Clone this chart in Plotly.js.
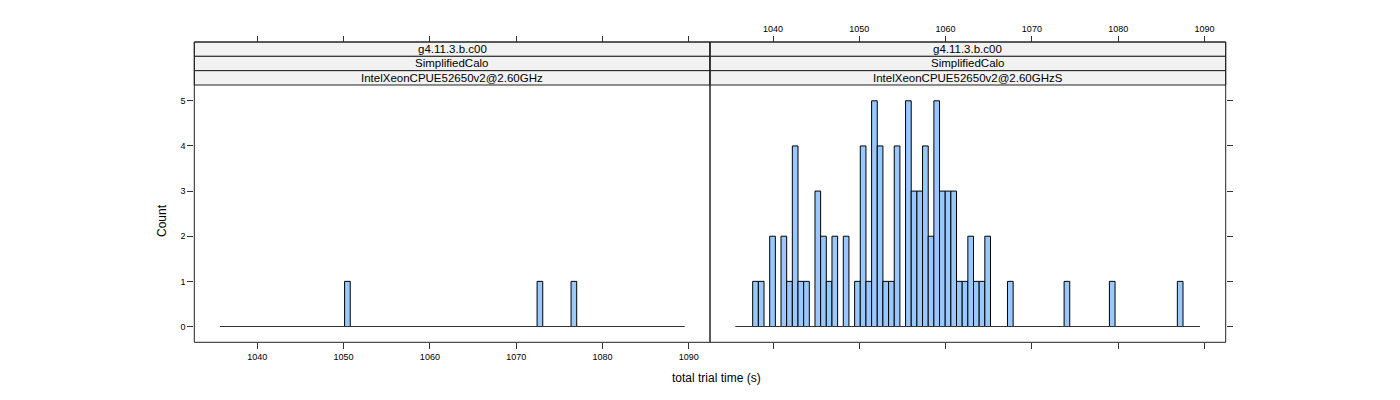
<!DOCTYPE html>
<html>
<head>
<meta charset="utf-8">
<script src="https://cdn.plot.ly/plotly-3.0.1.min.js"></script>
<style>
  html, body { margin: 0; padding: 0; background: #ffffff; }
  #chart { width: 1400px; height: 400px; }
</style>
</head>
<body>
<div id="chart"></div>
<script>
// ---------------- data ----------------
const breakStart = 1035.68;      // first histogram break (s)
const breakWidth = 0.6561;       // histogram bin width (s)
const nBins = 82;

const stripLevel1 = ["g4.11.3.b.c00", "g4.11.3.b.c00"];
const stripLevel2 = ["SimplifiedCalo", "SimplifiedCalo"];
const stripLevel3 = ["IntelXeonCPUE52650v2@2.60GHz", "IntelXeonCPUE52650v2@2.60GHzS"];

// counts per bin, left panel (IntelXeonCPUE52650v2@2.60GHz)
const countsLeft = [
  0,0,0,0,0,0,0,0,0,0,
  0,0,0,0,0,0,0,0,0,0,
  0,0,1,0,0,0,0,0,0,0,
  0,0,0,0,0,0,0,0,0,0,
  0,0,0,0,0,0,0,0,0,0,
  0,0,0,0,0,0,1,0,0,0,
  0,0,1,0,0,0,0,0,0,0,
  0,0,0,0,0,0,0,0,0,0,
  0,0
];
// counts per bin, right panel (IntelXeonCPUE52650v2@2.60GHzS)
const countsRight = [
  0,0,0,1,1,0,2,0,2,1,
  4,1,1,0,3,2,1,2,0,2,
  0,1,4,1,5,4,1,1,4,0,
  5,3,3,4,2,5,3,3,3,1,
  1,2,1,1,2,0,0,0,1,0,
  0,0,0,0,0,0,0,0,1,0,
  0,0,0,0,0,0,1,0,0,0,
  0,0,0,0,0,0,0,0,1,0,
  0,0
];

const xTicks = [1040, 1050, 1060, 1070, 1080, 1090];
const yTicks = [0, 1, 2, 3, 4, 5];
const xTitle = "total trial time (s)";
const yTitle = "Count";

// ---------------- derived ----------------
const edges = [];
for (let i = 0; i <= nBins; i++) edges.push(breakStart + i * breakWidth);
const centers = edges.slice(0, nBins).map(e => e + breakWidth / 2);

// ---------------- geometry helpers (pixel -> paper) ----------------
const W = 1400, H = 400;
const px = v => v / W;
const py = v => 1 - v / H;

const panelL = [194.3, 710.0];
const panelR = [710.0, 1225.7];
const plotTop = 85.0, plotBot = 342.3, stripTop = 42.0;
const stripH = (plotTop - stripTop) / 3;

const xRange = [1032.70, 1092.46];
const yRange = [-0.35, 5.35];

const FONT = "Liberation Sans, Arial, Helvetica, sans-serif";
const barFill = "#99C8FF";
const ink = "#222222";

function barTrace(counts, xa, ya) {
  return {
    type: "bar", x: centers, y: counts, width: breakWidth,
    xaxis: xa, yaxis: ya,
    marker: { color: barFill, line: { color: "#000000", width: 1 } },
    hoverinfo: "x+y", showlegend: false
  };
}
function baseTrace(xa, ya) {
  return {
    type: "scatter", mode: "lines",
    x: edges, y: edges.map(() => 0), xaxis: xa, yaxis: ya,
    line: { color: "#333333", width: 1 },
    hoverinfo: "skip", showlegend: false
  };
}

const data = [
  baseTrace("x", "y"),
  baseTrace("x2", "y2"),
  barTrace(countsLeft, "x", "y"),
  barTrace(countsRight, "x2", "y2"),
  { type: "scatter", x: [], y: [], xaxis: "x3", yaxis: "y", showlegend: false, hoverinfo: "skip" },
  { type: "scatter", x: [], y: [], xaxis: "x4", yaxis: "y2", showlegend: false, hoverinfo: "skip" }
];

const tickFont = { family: FONT, size: 9, color: "#000000" };
const commonX = {
  range: xRange, tickvals: xTicks, ticks: "outside", ticklen: 6, tickwidth: 1,
  tickcolor: "#333333", showgrid: false, zeroline: false, showline: false,
  ticklabelstandoff: 0,
  tickfont: tickFont, fixedrange: true
};
const commonY = {
  range: yRange, tickvals: yTicks, ticks: "outside", ticklen: 6, tickwidth: 1,
  tickcolor: "#333333", showgrid: false, zeroline: false, showline: false,
  domain: [py(plotBot), py(plotTop)], ticklabelstandoff: 0,
  tickfont: tickFont, fixedrange: true
};

const shapes = [];
const annotations = [];
[panelL, panelR].forEach((p, k) => {
  for (let r = 0; r < 3; r++) {
    const y0 = stripTop + r * stripH, y1 = y0 + stripH;
    shapes.push({ type: "rect", xref: "paper", yref: "paper",
      x0: px(p[0]), x1: px(p[1]), y0: py(y1), y1: py(y0),
      fillcolor: "#F2F2F2", line: { color: ink, width: 1 }, layer: "below" });
    const txt = [stripLevel1, stripLevel2, stripLevel3][r][k];
    annotations.push({ xref: "paper", yref: "paper",
      x: px((p[0] + p[1]) / 2), y: py((y0 + y1) / 2),
      text: txt, showarrow: false, xanchor: "center", yanchor: "middle",
      font: { family: FONT, size: 11.5, color: "#000000" } });
  }
  shapes.push({ type: "rect", xref: "paper", yref: "paper",
    x0: px(p[0]), x1: px(p[1]), y0: py(plotBot), y1: py(stripTop),
    fillcolor: "rgba(0,0,0,0)", line: { color: ink, width: 1 } });
});

annotations.push({ xref: "paper", yref: "paper", x: px(716), y: py(378),
  text: xTitle, showarrow: false, xanchor: "center", yanchor: "middle",
  font: { family: FONT, size: 12, color: "#000000" } });
annotations.push({ xref: "paper", yref: "paper", x: px(162), y: py(221),
  text: yTitle, showarrow: false, xanchor: "center", yanchor: "middle", textangle: -90,
  font: { family: FONT, size: 12, color: "#000000" } });

const layout = {
  width: W, height: H,
  margin: { l: 0, r: 0, t: 0, b: 0, pad: 0 },
  paper_bgcolor: "#ffffff", plot_bgcolor: "rgba(0,0,0,0)",
  bargap: 0, barmode: "overlay", showlegend: false,
  xaxis: Object.assign({}, commonX, { domain: [px(panelL[0]), px(panelL[1])], anchor: "y", side: "bottom" }),
  xaxis2: Object.assign({}, commonX, { domain: [px(panelR[0]), px(panelR[1])], anchor: "y2", side: "bottom", showticklabels: false }),
  xaxis3: Object.assign({}, commonX, { overlaying: "x", anchor: "free", position: py(stripTop), side: "top", showticklabels: false }),
  xaxis4: Object.assign({}, commonX, { overlaying: "x2", anchor: "free", position: py(stripTop), side: "top", showticklabels: true }),
  yaxis: Object.assign({}, commonY, { anchor: "x", side: "left" }),
  yaxis2: Object.assign({}, commonY, { anchor: "x2", side: "right", showticklabels: false }),
  shapes: shapes,
  annotations: annotations
};

Plotly.newPlot("chart", data, layout, { displayModeBar: false, staticPlot: true });
</script>
</body>
</html>
